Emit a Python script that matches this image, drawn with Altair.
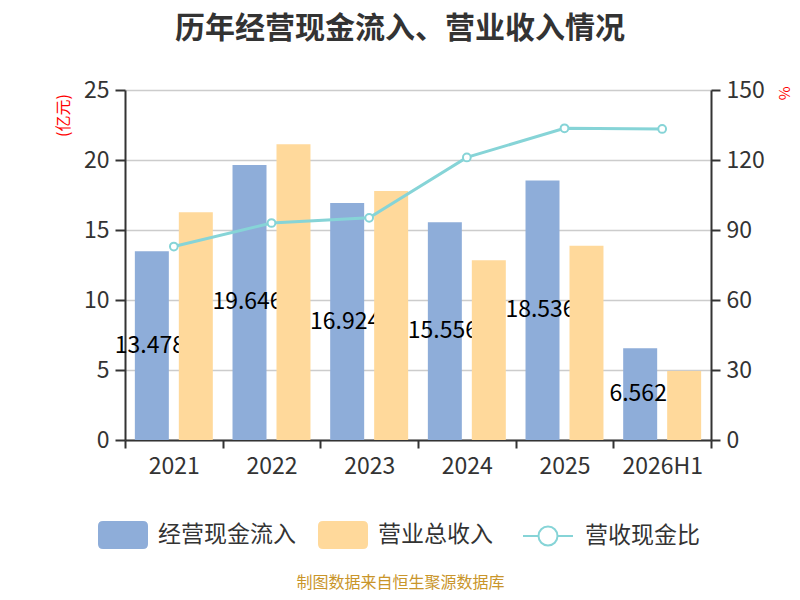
import altair as alt
import pandas as pd

years = ["2021", "2022", "2023", "2024", "2025", "2026H1"]
cash_in = [13.478, 19.646, 16.924, 15.556, 18.536, 6.562]
revenue = [16.26, 21.12, 17.78, 12.84, 13.87, 4.93]
ratio = [82.9, 93.0, 95.2, 121.1, 133.6, 133.3]

S1, S2, S3 = "经营现金流入", "营业总收入", "营收现金比"
BLUE, ORANGE, TEAL = "#8EADD9", "#FFD99B", "#86D4D7"
FONT = "Noto Sans CJK SC"

bars_df = pd.DataFrame({
    "year": years * 2,
    "series": [S1] * len(years) + [S2] * len(years),
    "value": cash_in + revenue,
})
line_df = pd.DataFrame({"year": years, "series": [S3] * len(years), "ratio": ratio})

x_axis = alt.Axis(
    title="制图数据来自恒生聚源数据库", titleColor="#C9952A", titleFontSize=16,
    titleFont=FONT, titleFontWeight="normal", titleX=275, titleY=142,
    titleAlign="center", titleBaseline="middle",
    labelAngle=0, labelFontSize=23, labelFont=FONT, labelColor="#333",
    labelPadding=7, tickBand="extent", tickSize=8, tickWidth=2, tickColor="#333",
    domainColor="#333", domainWidth=2, grid=False,
)
x_enc = alt.X("year:N", sort=years, scale=alt.Scale(paddingInner=0, paddingOuter=0), axis=x_axis)
xoff = alt.XOffset("series:N", scale=alt.Scale(domain=[S1, S2], paddingInner=0.227, paddingOuter=0.224))

left_axis = alt.Axis(
    title="(亿元)", titleColor="#FF0000", titleFontSize=16, titleFont=FONT,
    titleFontWeight="normal", titleAngle=-90, titleX=-62, titleY=25,
    titleAlign="center", titleBaseline="middle",
    values=[0, 5, 10, 15, 20, 25], labelFontSize=23, labelFont=FONT, labelColor="#333",
    labelPadding=6, tickSize=10, tickWidth=2, tickColor="#333",
    domainColor="#333", domainWidth=2, grid=True, gridColor="#CCCCCC", gridWidth=1.5,
)
right_axis = alt.Axis(
    orient="right", title="%", titleColor="#FF0000", titleFontSize=15, titleFont=FONT,
    titleFontWeight="normal", titleAngle=90, titleX=72, titleY=3,
    titleAlign="center", titleBaseline="middle",
    values=[0, 30, 60, 90, 120, 150], labelFontSize=23, labelFont=FONT, labelColor="#333",
    labelPadding=6, tickSize=9, tickWidth=2, tickColor="#333",
    domainColor="#333", domainWidth=2, grid=False,
)

lscale = alt.Scale(domain=[0, 25], nice=False)
color = alt.Color(
    "series:N", scale=alt.Scale(domain=[S1, S2], range=[BLUE, ORANGE]),
    legend=alt.Legend(
        orient="none", legendX=-27, legendY=420, direction="horizontal", title=None,
        symbolType="M-0.8,-0.56L0.8,-0.56Q1,-0.56 1,-0.36L1,0.36Q1,0.56 0.8,0.56L-0.8,0.56Q-1,0.56 -1,0.36L-1,-0.36Q-1,-0.56 -0.8,-0.56Z",
        symbolSize=2500, symbolStrokeWidth=0, symbolOpacity=1,
        labelFontSize=23, labelFont=FONT, labelColor="#333", labelOffset=10,
        columnPadding=22, padding=0, labelLimit=400,
    ),
)

base_bars = alt.Chart(bars_df)
blue = base_bars.transform_filter(alt.datum.series == S1).mark_bar().encode(
    x=x_enc, xOffset=xoff, y=alt.Y("value:Q", scale=lscale, axis=left_axis), color=color)
orange = base_bars.transform_filter(alt.datum.series == S2).mark_bar().encode(
    x=x_enc, xOffset=xoff, y=alt.Y("value:Q", scale=lscale, axis=left_axis), color=color)
text = base_bars.transform_filter(alt.datum.series == S1).transform_calculate(
    mid="datum.value / 2", label="format(datum.value, '.3f')"
).mark_text(fontSize=23, font=FONT, color="#000", baseline="middle", align="center", dx=-2).encode(
    x=x_enc, xOffset=xoff, y=alt.Y("mid:Q", scale=lscale, axis=left_axis), text="label:N")

rscale = alt.Scale(domain=[0, 150], nice=False)
line = alt.Chart(line_df).mark_line(strokeWidth=3).encode(
    x=x_enc, y=alt.Y("ratio:Q", scale=rscale, axis=right_axis),
    stroke=alt.Stroke(
        "series:N", scale=alt.Scale(domain=[S3], range=[TEAL]),
        legend=alt.Legend(
            orient="none", legendX=397, legendY=420, direction="horizontal", title=None,
            symbolType="M-1,0L-0.38,0M0.38,0L1,0M0.38,0C0.38,0.21 0.21,0.38 0,0.38C-0.21,0.38 -0.38,0.21 -0.38,0C-0.38,-0.21 -0.21,-0.38 0,-0.38C0.21,-0.38 0.38,-0.21 0.38,0Z",
            symbolSize=2500, symbolStrokeWidth=2, symbolFillColor="white",
            labelFontSize=23, labelFont=FONT, labelColor="#333", labelOffset=11,
            padding=0, labelLimit=400,
        ),
    ),
)
points = alt.Chart(line_df).mark_point(filled=True, fill="white", stroke=TEAL, strokeWidth=2, size=60, opacity=1).encode(
    x=x_enc, y=alt.Y("ratio:Q", scale=rscale, axis=right_axis))

chart = alt.layer(
    alt.layer(blue, text, orange),
    alt.layer(line, points),
).resolve_scale(y="independent").properties(
    width=586, height=350,
    padding={"left": 117, "top": 82, "right": 81, "bottom": 152},
    autosize=alt.AutoSizeParams(type="none"),
    title=alt.TitleParams(
        "历年经营现金流入、营业收入情况", fontSize=30, fontWeight="bold", color="#333",
        font=FONT, anchor="middle", frame="group", dx=-18, offset=35,
    ),
).configure_view(stroke=None)

chart.save("out.html", embed_options={"renderer": "svg", "actions": False})
